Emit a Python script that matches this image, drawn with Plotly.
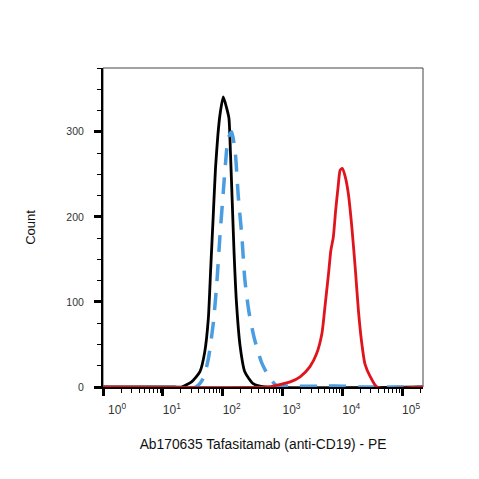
import plotly.graph_objects as go

# Black histogram (log10 of intensity, count)
black_logx = [0.0, 1.20, 1.31, 1.48, 1.62, 1.70, 1.76, 1.80, 1.84, 1.88, 1.92, 1.955, 2.01, 2.07, 2.105,
              2.13, 2.16, 2.19, 2.23, 2.29, 2.37, 2.51, 2.71, 5.35]
black_count = [0, 0, 0, 6, 18, 41, 80, 139, 198, 257, 296, 320, 341, 327, 316,
               276, 218, 159, 100, 49, 18, 4, 0, 0]

# Blue dashed histogram
blue_logx = [0.0, 1.55, 1.675, 1.76, 1.84, 1.90, 1.955, 2.01, 2.05, 2.09, 2.15, 2.21, 2.26, 2.32,
             2.37, 2.44, 2.53, 2.65, 2.79, 2.90, 3.1, 3.6, 4.0, 4.3, 5.35]
blue_count = [0, 0, 10, 33, 73, 120, 178, 229, 265, 292, 300, 276, 225, 178,
              127, 88, 57, 29, 10, 2, 1, 1, 1, 0, 0]

# Red histogram
red_logx = [0.0, 2.75, 2.90, 3.13, 3.295, 3.46, 3.57, 3.66, 3.71, 3.77, 3.81, 3.85, 3.89, 3.93, 3.965,
            4.0, 4.05, 4.10, 4.16, 4.22, 4.27, 4.32, 4.38, 4.47, 4.58, 5.35]
red_count = [0, 0, 2, 6, 12, 24, 39, 63, 94, 133, 161, 176, 208, 235, 255,
             257, 247, 228, 188, 137, 90, 55, 27, 12, 0, 0]

x_tickvals = [1, 10, 100, 1000, 10000, 100000]
x_ticktext = ["\u00a0\u00a0\u00a010<sup>0</sup>", "10<sup>1</sup>", "10<sup>2</sup>",
              "10<sup>3</sup>", "10<sup>4</sup>", "10<sup>5</sup>"]
y_tickvals = [0, 100, 200, 300]

x_title = "Ab170635 Tafasitamab (anti-CD19) - PE"
y_title = "Count"

def tolin(v):
    return [10 ** a for a in v]

fig = go.Figure()
fig.add_trace(go.Scatter(x=tolin(black_logx), y=black_count, mode="lines",
                         line=dict(color="#000000", width=2.8, shape="spline", smoothing=0.6)))
fig.add_trace(go.Scatter(x=tolin(blue_logx), y=blue_count, mode="lines",
                         line=dict(color="#4a9de0", width=3.5, dash="17px,12px", shape="spline", smoothing=0.6)))
fig.add_trace(go.Scatter(x=tolin(red_logx), y=red_count, mode="lines",
                         line=dict(color="#e0141c", width=2.8, shape="spline", smoothing=0.6)))

# thin frame on top/right (left/bottom axis lines drawn heavier on top)
fig.add_shape(type="rect", xref="paper", yref="paper", x0=0, y0=0, x1=1, y1=1,
              line=dict(color="#444444", width=1), layer="below")

fig.update_layout(
    width=479, height=479,
    margin=dict(l=95, r=64, t=60, b=100),
    paper_bgcolor="white", plot_bgcolor="white",
    showlegend=False,
    font=dict(family="Liberation Sans, Arial, sans-serif", color="#222222"),
)
fig.update_xaxes(
    type="log", range=[-0.001, 5.35],
    tickvals=x_tickvals, ticktext=x_ticktext,
    ticks="outside", ticklen=7, tickwidth=2.5, tickcolor="black",
    ticklabelshift=9, ticklabelstandoff=4,
    minor=dict(ticks="outside", ticklen=4, tickwidth=1.2, tickcolor="black", dtick="D1"),
    showgrid=False, zeroline=False,
    showline=True, linecolor="black", linewidth=2, mirror=False,
    tickfont=dict(size=12, color="#333333"),
    title=dict(text=x_title, font=dict(size=13.8, color="#111111"), standoff=23),
)
fig.update_yaxes(
    range=[0, 375],
    tickvals=y_tickvals,
    ticks="outside", ticklen=7, tickwidth=2.5, tickcolor="black",
    ticklabelstandoff=8,
    minor=dict(ticks="outside", ticklen=4, tickwidth=1.2, tickcolor="black", dtick=25),
    showgrid=False, zeroline=False,
    showline=True, linecolor="black", linewidth=2, mirror=False,
    tickfont=dict(size=10.5, color="#333333"),
    title=dict(text=y_title, font=dict(size=13, color="#111111"), standoff=28),
)

fig.write_html("out.html")
